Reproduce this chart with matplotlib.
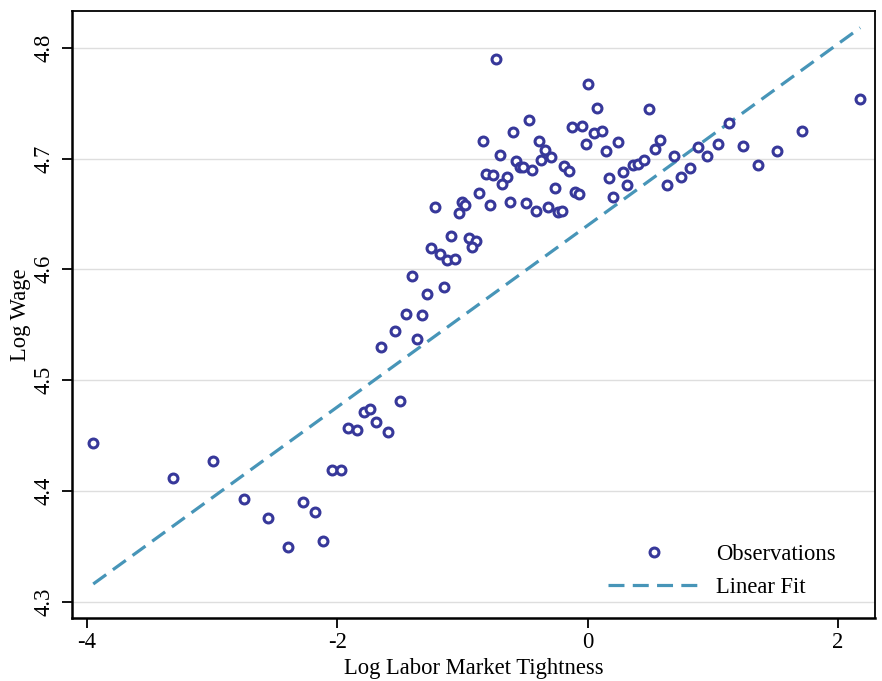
import matplotlib
matplotlib.use("Agg")
import matplotlib.pyplot as plt
import numpy as np

# values
tightness = [
    -3.949, -3.310, -2.990, -2.745, -2.556, -2.394, -2.272, -2.178, -2.112, -2.042,
    -1.973, -1.915, -1.843, -1.784, -1.736, -1.693, -1.593, -1.499, -1.651, -1.542,
    -1.363, -1.451, -1.326, -1.286, -1.148, -1.403, -0.732, 0.006, -0.469, -0.599,
    -0.836, -0.389, -0.123, -0.043, -0.015, -0.341, -0.703, -0.371, -0.289, -0.570,
    -0.538, -0.514, -0.441, -0.185, -0.152, -0.810, -0.754, -0.647, -0.682, -0.264,
    -0.100, -0.067, -0.866, -1.004, -0.978, -1.028, -1.217, -0.783, -0.623, -0.490,
    -0.415, -0.319, -0.239, -0.205, -1.092, -0.950, -0.895, -0.922, -1.252, -1.182,
    -1.121, -1.058, 0.078, 0.487, 2.177, 0.048, 0.112, 0.242, 0.144, 1.131,
    1.714, 0.535, 0.580, 0.689, 0.881, 0.955, 1.041, 1.238, 1.360, 1.510,
    0.173, 0.280, 0.364, 0.404, 0.450, 0.316, 0.204, 0.633, 0.748, 0.815,
]
log_wage = [
    4.443, 4.412, 4.427, 4.393, 4.376, 4.349, 4.390, 4.381, 4.355, 4.419,
    4.419, 4.457, 4.455, 4.471, 4.474, 4.462, 4.453, 4.481, 4.530, 4.544,
    4.537, 4.560, 4.559, 4.578, 4.584, 4.594, 4.790, 4.767, 4.735, 4.724,
    4.716, 4.716, 4.728, 4.729, 4.713, 4.708, 4.703, 4.699, 4.701, 4.698,
    4.692, 4.692, 4.690, 4.693, 4.689, 4.686, 4.685, 4.683, 4.677, 4.673,
    4.670, 4.668, 4.669, 4.661, 4.658, 4.651, 4.656, 4.658, 4.661, 4.660,
    4.653, 4.656, 4.652, 4.653, 4.630, 4.628, 4.626, 4.620, 4.619, 4.614,
    4.608, 4.609, 4.746, 4.745, 4.754, 4.723, 4.725, 4.715, 4.707, 4.732,
    4.725, 4.709, 4.717, 4.702, 4.710, 4.702, 4.713, 4.711, 4.694, 4.707,
    4.682, 4.688, 4.694, 4.695, 4.699, 4.676, 4.665, 4.676, 4.683, 4.691,
]
fit_x = [-3.949, 2.177]
fit_y = [4.316, 4.818]

x_ticks = [-4, -2, 0, 2]
y_ticks = [4.3, 4.4, 4.5, 4.6, 4.7, 4.8]

plt.rcParams['font.family'] = 'serif'
plt.rcParams['font.serif'] = ['Liberation Serif', 'DejaVu Serif']
plt.rcParams['axes.unicode_minus'] = False
plt.rcParams['font.size'] = 16.3

fig = plt.figure(figsize=(8.82, 6.81), dpi=100)
ax = fig.add_axes([0.0813, 0.0930, 0.9113, 0.8908])

ax.plot(tightness, log_wage, linestyle='none', marker='o', markersize=6.4,
        markerfacecolor='white', markeredgecolor='#37389a', markeredgewidth=2.2,
        label='Observations', zorder=3)
ax.plot(fit_x, fit_y, color='#4795b8', linewidth=2.3, dashes=(5.0, 2.6),
        label='Linear Fit', zorder=2)

ax.set_xlim(-4.121, 2.299)
ax.set_ylim(4.2856, 4.8331)
ax.set_xticks(x_ticks)
ax.set_xticklabels([str(t) for t in x_ticks])
ax.set_yticks(y_ticks)
ax.set_yticklabels(['%.1f' % t for t in y_ticks], rotation=90, va='center')

ax.grid(axis='y', color='#dedede', linewidth=1.0)
ax.set_axisbelow(True)
ax.tick_params(axis='both', direction='out', length=7.2, width=1.3, colors='black')
ax.tick_params(axis='x', pad=3)
ax.tick_params(axis='y', pad=5)

for side in ['left', 'bottom']:
    ax.spines[side].set_linewidth(1.8)
for side in ['top', 'right']:
    ax.spines[side].set_linewidth(1.3)

ax.set_xlabel('Log Labor Market Tightness', labelpad=4)
ax.set_ylabel('Log Wage', labelpad=2)

ax.legend(loc='upper left', bbox_to_anchor=(0.667, 0.122), frameon=False,
          handlelength=4.1, handletextpad=0.7, labelspacing=0.55,
          borderpad=0, borderaxespad=0, numpoints=1)

fig.savefig('out.png', dpi=100)
